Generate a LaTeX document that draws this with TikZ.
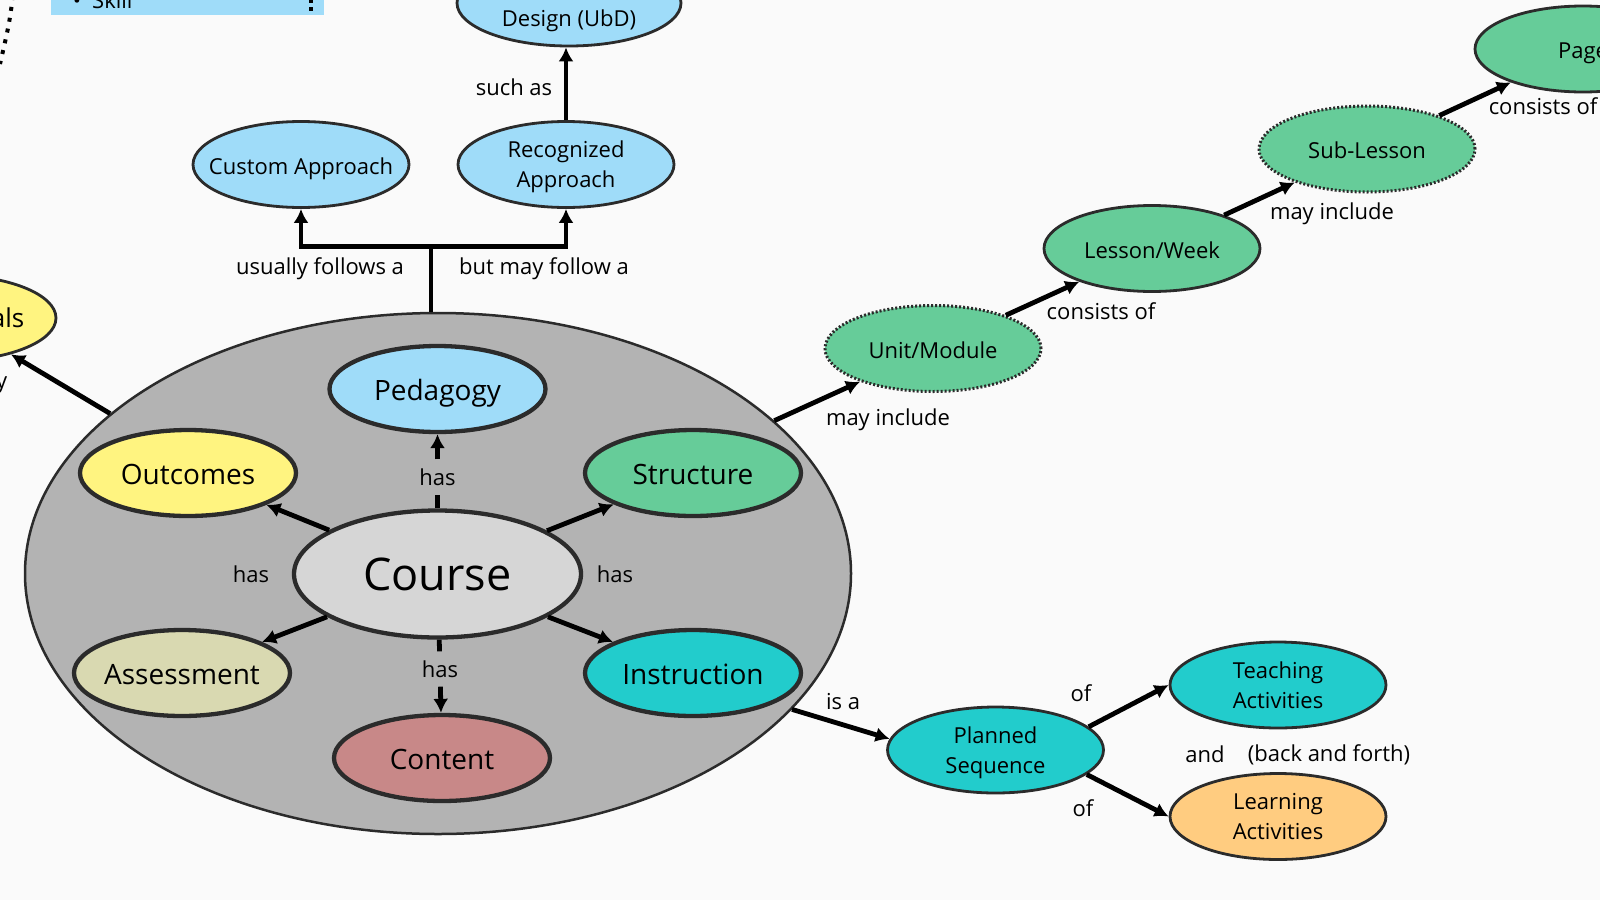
\documentclass[tikz,border=0pt]{standalone}
\usepackage{fontspec}
\setmainfont{Open Sans}
\usetikzlibrary{arrows.meta,shapes.geometric}
\tikzset{>={Latex[length=14pt,width=15pt]}}
\definecolor{bgcol}{HTML}{FAFAFA}
\definecolor{clustercol}{HTML}{B3B3B3}
\definecolor{coursecol}{HTML}{D6D6D6}
\definecolor{bluecol}{HTML}{9FDCF9}
\definecolor{yellowcol}{HTML}{FFF480}
\definecolor{greencol}{HTML}{66CC99}
\definecolor{khakicol}{HTML}{D9D9B1}
\definecolor{tealcol}{HTML}{22CCCC}
\definecolor{rosecol}{HTML}{C88888}
\definecolor{orangecol}{HTML}{FFCC80}
\definecolor{edgecol}{HTML}{2B2B2B}
% text that does not widen the ellipse, baseline set from the centre
\newcommand{\ctext}[1]{\makebox[0pt]{\raisebox{-9.5pt}[0pt][0pt]{#1}}}
\newcommand{\itext}[1]{\makebox[0pt]{\raisebox{-11pt}[0pt][0pt]{#1}}}
\newcommand{\ctwo}[2]{\makebox[0pt]{\raisebox{7pt}[0pt][0pt]{\begin{tabular}[t]{@{}c@{}}#1\\#2\end{tabular}}}}
\tikzset{
  concept/.style={ellipse, draw=edgecol, line width=2.8pt, inner sep=0pt,
    minimum width=216pt, minimum height=86pt, font=\fontsize{22}{30}\selectfont},
  inner concept/.style={concept, line width=4.3pt, font=\fontsize{28}{34}\selectfont},
  optional/.style={dash pattern=on 2pt off 2pt, line width=3pt},
  phrase/.style={inner sep=0pt, font=\fontsize{22}{30}\selectfont},
  has phrase/.style={phrase, text height=16pt, text depth=0pt, inner ysep=9.5pt},
  linkline/.style={line width=4.8pt, draw=black},
  arrowline/.style={linkline, ->},
}

\begin{document}
\begin{tikzpicture}[x=1pt, y=-1pt]
  \useasboundingbox (0,0) rectangle (1600,900);
  \clip (0,0) rectangle (1600,900);
  \fill[bgcol] (0,0) rectangle (1600,900);

  % corner of the list box
  \fill[bluecol] (51,-20) rectangle (324,15);
  \node[phrase, anchor=base] (bullet) at (77,8) {•};
  \node[phrase, anchor=base west] (skill) at (92,8) {Skill};
  \fill (309,-1) rectangle (313,3);
  \fill (309,7) rectangle (313,11);
  \draw[line width=4pt, dash pattern=on 4pt off 7pt] (13,-4) .. controls (9,25) .. (0,64);

  \node[ellipse, draw=edgecol, line width=2.5pt, fill=clustercol, inner sep=0pt,
        minimum width=826pt, minimum height=521pt] (cluster) at (438,573.5) {};

  \node[inner concept, fill=coursecol, font=\fontsize{45}{54}\selectfont,
        minimum width=287pt, minimum height=127pt] (course) at (437.5,574) {\makebox[0pt]{Course}};
  \node[inner concept, fill=bluecol] (pedagogy) at (437.5,389) {\itext{Pedagogy}};
  \node[inner concept, fill=yellowcol] (outcomes) at (188,473) {\itext{Outcomes}};
  \node[inner concept, fill=greencol] (structure) at (693,473) {\itext{Structure}};
  \node[inner concept, fill=khakicol] (assessment) at (182,673) {\itext{Assessment}};
  \node[inner concept, fill=tealcol] (instruction) at (693,673) {\itext{Instruction}};
  \node[inner concept, fill=rosecol] (content) at (442,758) {\itext{Content}};

  \node[has phrase] (hasT) at (437.5,477) {has};
  \node[has phrase] (hasB) at (440,669) {has};
  \node[phrase] (hasL) at (251,574) {has};
  \node[phrase] (hasR) at (615,574) {has};

  \draw[linkline] (course) -- (hasT);
  \draw[arrowline] (hasT) -- (pedagogy);
  \draw[linkline] (course) -- (hasB);
  \draw[arrowline] (hasB) -- (content);
  \draw[arrowline] (course) -- (outcomes);
  \draw[arrowline] (course) -- (assessment);
  \draw[arrowline] (course) -- (structure);
  \draw[arrowline] (course) -- (instruction);

  % pedagogy branch
  \node[concept, fill=bluecol] (custom) at (301,164.5) {\ctext{Custom Approach}};
  \node[concept, fill=bluecol] (recognized) at (566,164.5) {\ctwo{Recognized}{Approach}};
  \node[concept, fill=bluecol, minimum width=224pt] (design) at (569,3) {\ctwo{}{Design (UbD)}};
  \coordinate (fork) at (431,246.5);
  \draw[linkline] (fork |- cluster.north) -- (fork);
  \draw[arrowline] (fork) -| (custom);
  \draw[arrowline] (fork) -| (recognized);
  \draw[arrowline] (recognized.north) -- (recognized.north |- design.south);
  \node[phrase] (usually) at (320,268.5) {usually follows a};
  \node[phrase] (butmay) at (544,268.5) {but may follow a};
  \node[phrase] (suchas) at (514,87) {such as};

  % goals, cut off at the left
  \node[concept, fill=yellowcol] (goals) at (-52,318) {};
  \node[phrase, font=\fontsize{26}{30}\selectfont, anchor=base east] (goalstext) at (24.5,327) {als};
  \node[phrase, anchor=base east] (goalsphrase) at (7.5,388) {y};
  \draw[arrowline] (cluster.154.9) -- (goals.-30);

  % structure chain
  \node[concept, fill=greencol, optional] (unit) at (933,348.5) {\ctext{Unit/Module}};
  \node[concept, fill=greencol] (lesson) at (1152,248.5) {\ctext{Lesson/Week}};
  \node[concept, fill=greencol, optional] (sublesson) at (1367,149) {\ctext{Sub-Lesson}};
  \node[concept, fill=greencol] (page) at (1583,49) {\ctext{Page}};
  \draw[arrowline] (cluster) -- (unit);
  \draw[arrowline] (unit) -- (lesson);
  \draw[arrowline] (lesson) -- (sublesson);
  \draw[arrowline] (sublesson) -- (page);
  \node[phrase] (mayinc1) at (888,420) {may include};
  \node[phrase] (consists1) at (1101,311) {consists of};
  \node[phrase] (mayinc2) at (1332,213.5) {may include};
  \node[phrase] (consists2) at (1543,106) {consists of};

  % instruction branch
  \node[concept, fill=tealcol] (planned) at (995.5,750) {\ctwo{Planned}{Sequence}};
  \node[concept, fill=tealcol] (teaching) at (1278,685) {\ctwo{Teaching}{Activities}};
  \node[concept, fill=orangecol] (learning) at (1278,816.5) {\ctwo{Learning}{Activities}};
  \draw[arrowline] (cluster.-21.8) -- (planned.174);
  \draw[arrowline] (planned.14.5) -- (teaching.west);
  \draw[arrowline] (planned.-15.7) -- (learning.west);
  \node[phrase] (isa) at (843,702) {is a};
  \node[phrase] (ofT) at (1081,693) {of};
  \node[phrase] (ofL) at (1083,808) {of};
  \node[phrase] (andtext) at (1205,754) {and};
  \node[phrase] (backforth) at (1329,755) {(back and forth)};
\end{tikzpicture}
\end{document}
